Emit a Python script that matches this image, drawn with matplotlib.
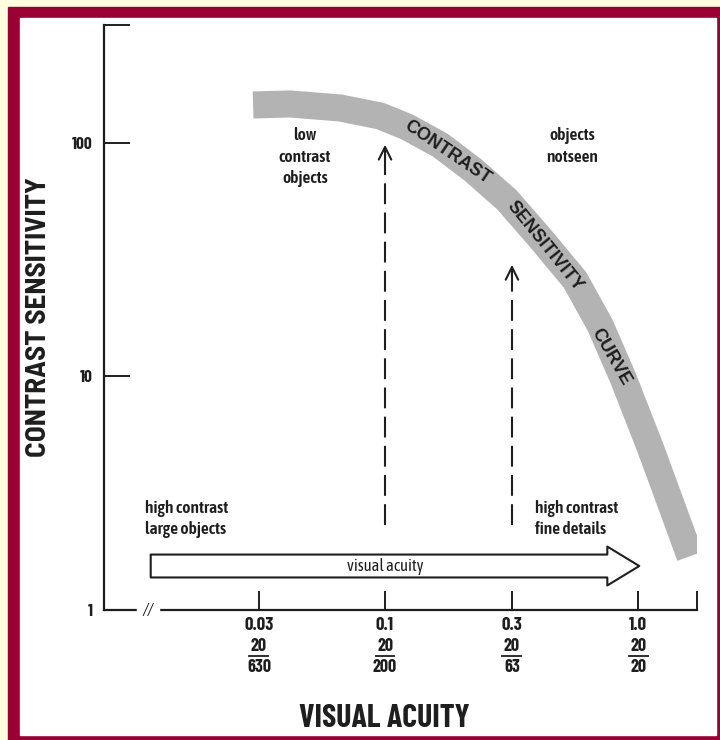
import matplotlib
matplotlib.use('Agg')
import matplotlib.pyplot as plt
from matplotlib.patches import Rectangle, FancyArrowPatch

# values
acuity_ticks = [20 / 630, 20 / 200, 20 / 63, 20 / 20]
acuity_labels = ['0.03', '0.1', '0.3', '1.0']
snellen_num = ['20', '20', '20', '20']
snellen_den = ['630', '200', '63', '20']
sens_ticks = [1, 10, 100]
sens_labels = ['1', '10', '100']

curve_acuity = [0.0301, 0.0421, 0.0664, 0.0956, 0.1222, 0.1650, 0.2228, 0.3035,
                0.4100, 0.5636, 0.7076, 0.8725, 1.1153, 1.4004, 1.6053]
curve_sens = [145.4, 146.9, 141.2, 130.5, 117.1, 98.0, 76.6, 57.0,
              39.2, 25.9, 16.6, 9.85, 4.99, 2.55, 1.70]

arrow_acuity = [20 / 200, 20 / 63]
arrow_top = [101, 30.9]
arrow_bottom = 2.31

xmin, xmax = 0.00775, 1.71
ymin, ymax = 1, 320

NARROW = ['Barlow Condensed', 'DejaVu Sans']
SEMI = ['Barlow Semi Condensed', 'DejaVu Sans']
NOTE = ['Asap Condensed', 'DejaVu Sans']
INK = '#1e1e1e'
GREY = '#b3b3b3'

W, H = 720, 740
fig = plt.figure(figsize=(7.2, 7.4), dpi=100, facecolor='#ffffe0')

# maroon frame and white panel
fig.add_artist(Rectangle((8 / W, 0), 1 - 8 / W, 1 - 7 / H, transform=fig.transFigure,
                         color='#990033', zorder=-2))
fig.add_artist(Rectangle((20 / W, 1 - 735 / H), (716 - 20) / W, (735 - 18) / H,
                         transform=fig.transFigure, color='white', zorder=-1))

ax = fig.add_axes([104 / W, 1 - 610 / H, (697 - 104) / W, (610 - 25) / H])
ax.set_facecolor('none')
ax.set_xscale('log')
ax.set_yscale('log')
ax.set_xlim(xmin, xmax)
ax.set_ylim(ymin, ymax)

for s in ['top', 'right']:
    ax.spines[s].set_visible(False)
for s in ['left', 'bottom']:
    ax.spines[s].set_linewidth(1.6)
    ax.spines[s].set_color(INK)

ax.minorticks_off()
ax.set_xticks(acuity_ticks + [xmax])
ax.set_xticklabels(acuity_labels + [''], family=NARROW, fontweight='bold', fontsize=13.5)
ax.set_yticks(sens_ticks + [ymax])
ax.set_yticklabels(sens_labels + [''], family=NARROW, fontweight='bold', fontsize=12.5)
ax.tick_params(axis='x', direction='in', length=14, width=1.4, pad=5, color=INK, labelcolor=INK)
ax.tick_params(axis='y', direction='in', length=19, width=1.4, pad=8, color=INK, labelcolor=INK)

# snellen fractions under the decimal acuity
xt = ax.get_xaxis_transform()
for v, n, d in zip(acuity_ticks, snellen_num, snellen_den):
    ax.text(v, -0.062, n, transform=xt, ha='center', va='center', color=INK,
            family=NARROW, fontweight='bold', fontsize=13)
    ax.plot([v / 1.09, v * 1.09], [-0.078, -0.078], transform=xt, color=INK,
            lw=1.3, clip_on=False)
    ax.text(v, -0.098, d, transform=xt, ha='center', va='center', color=INK,
            family=NARROW, fontweight='bold', fontsize=13)

# axis break
ax.text(0.01156, 1, '//', ha='center', va='center', fontsize=12, style='italic',
        color=INK, backgroundcolor='white', family=NOTE)

ax.set_xlabel('VISUAL ACUITY', family=NARROW, fontweight='bold', fontsize=23, color=INK)
ax.xaxis.set_label_coords(0.472, -0.16)
ax.set_ylabel('CONTRAST SENSITIVITY', family=SEMI, fontweight='bold', fontsize=21, color=INK)
ax.yaxis.set_label_coords(-0.09, 0.5)

# contrast sensitivity curve band
ax.plot(curve_acuity, curve_sens, color=GREY, lw=19.5, solid_capstyle='butt',
        solid_joinstyle='round', zorder=2)
band_font = dict(ha='center', va='center', fontweight='heavy', fontsize=13,
                 family=['Liberation Sans', 'DejaVu Sans'], color=INK,
                 rotation_mode='anchor', zorder=3)
ax.text(0.1758, 91.5, 'CONTRAST', rotation=-34, **band_font)
ax.text(0.429, 36.2, 'SENSITIVITY', rotation=-51, **band_font)
ax.text(0.782, 12.1, 'CURVE', rotation=-60, **band_font)

# dashed arrows
for xa, top in zip(arrow_acuity, arrow_top):
    ax.plot([xa, xa], [arrow_bottom, top * 0.9], color=INK, lw=1.5,
            dashes=(10, 4), zorder=3)
    ax.annotate('', xy=(xa, top), xytext=(xa, top * 0.85),
                arrowprops=dict(arrowstyle='->,head_length=0.9,head_width=0.45',
                                color=INK, lw=1.5), zorder=3)

# visual acuity arrow
big = FancyArrowPatch((0.01156, 1.543), (1.037, 1.543), mutation_scale=1,
                      arrowstyle='simple,head_length=23,head_width=28,tail_width=16.5',
                      facecolor='white', edgecolor=INK, lw=1.5, zorder=3)
ax.add_patch(big)
ax.text(0.1, 1.543, 'visual acuity', ha='center', va='center', fontsize=12,
        family=NOTE, color=INK, zorder=4)

note = dict(fontsize=12.5, family=NOTE, fontweight='semibold', color=INK, linespacing=1.35)
ax.text(0.0483, 117, 'low\ncontrast\nobjects', ha='center', va='top', **note)
ax.text(0.548, 117, 'objects\nnotseen', ha='center', va='top', **note)
ax.text(0.01125, 2.45, 'high contrast\nlarge objects', ha='left', va='center', **note)
ax.text(0.392, 2.45, 'high contrast\nfine details', ha='left', va='center', **note)

fig.savefig('out.png', dpi=100, facecolor=fig.get_facecolor())
